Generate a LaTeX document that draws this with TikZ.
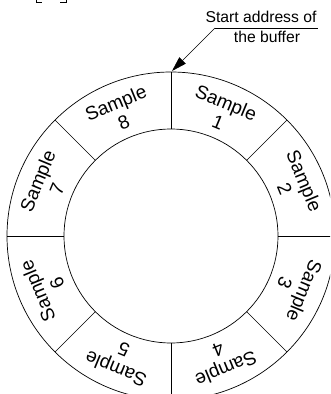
\documentclass[tikz,border=0pt]{standalone}
\usepackage{fontspec}
\setmainfont{Liberation Sans}
\usetikzlibrary{arrows.meta}
\begin{document}
\begin{tikzpicture}[x=1pt,y=1pt,line width=0.7pt,
  samplelabel/.style={font=\fontsize{19}{21}\selectfont,align=center,inner sep=0pt},
  note/.style={font=\fontsize{15.7}{17}\selectfont,inner sep=0pt,anchor=base},
  pointer/.style={-{Triangle[length=15pt,width=9pt]}}]
\useasboundingbox (-171,-158) rectangle (159,236);
\clip (-171,-158) rectangle (159,236);
\def\rin{107pt}
\def\rout{164pt}
\coordinate (c) at (0,0);
\draw (c) circle[radius=\rout];
\draw (c) circle[radius=\rin];
\foreach \a in {0,45,...,315}
  \draw (\a:\rin) -- (\a:\rout);
\foreach \i in {1,...,8}{
  \pgfmathsetmacro\ang{112.5-45*\i}
  \node[samplelabel,rotate=\ang-90] (s\i) at (\ang:134pt) {Sample\\\i};
}
% annotation
\node[note] (t1) at (90,213) {Start address of};
\node[note] (t2) at (96,193) {the buffer};
\coordinate (elbow) at (44,208);
\coordinate (lineend) at (147,208);
\coordinate (tip) at (1,165);
\draw (elbow) -- (lineend);
\draw[pointer] (elbow) -- (tip);
% cropped bracket bottoms at top left
\draw (-135,237) -- (-135,234) -- (-129,234);
\draw (-105,237) -- (-105,234) -- (-111,234);
\end{tikzpicture}
\end{document}
